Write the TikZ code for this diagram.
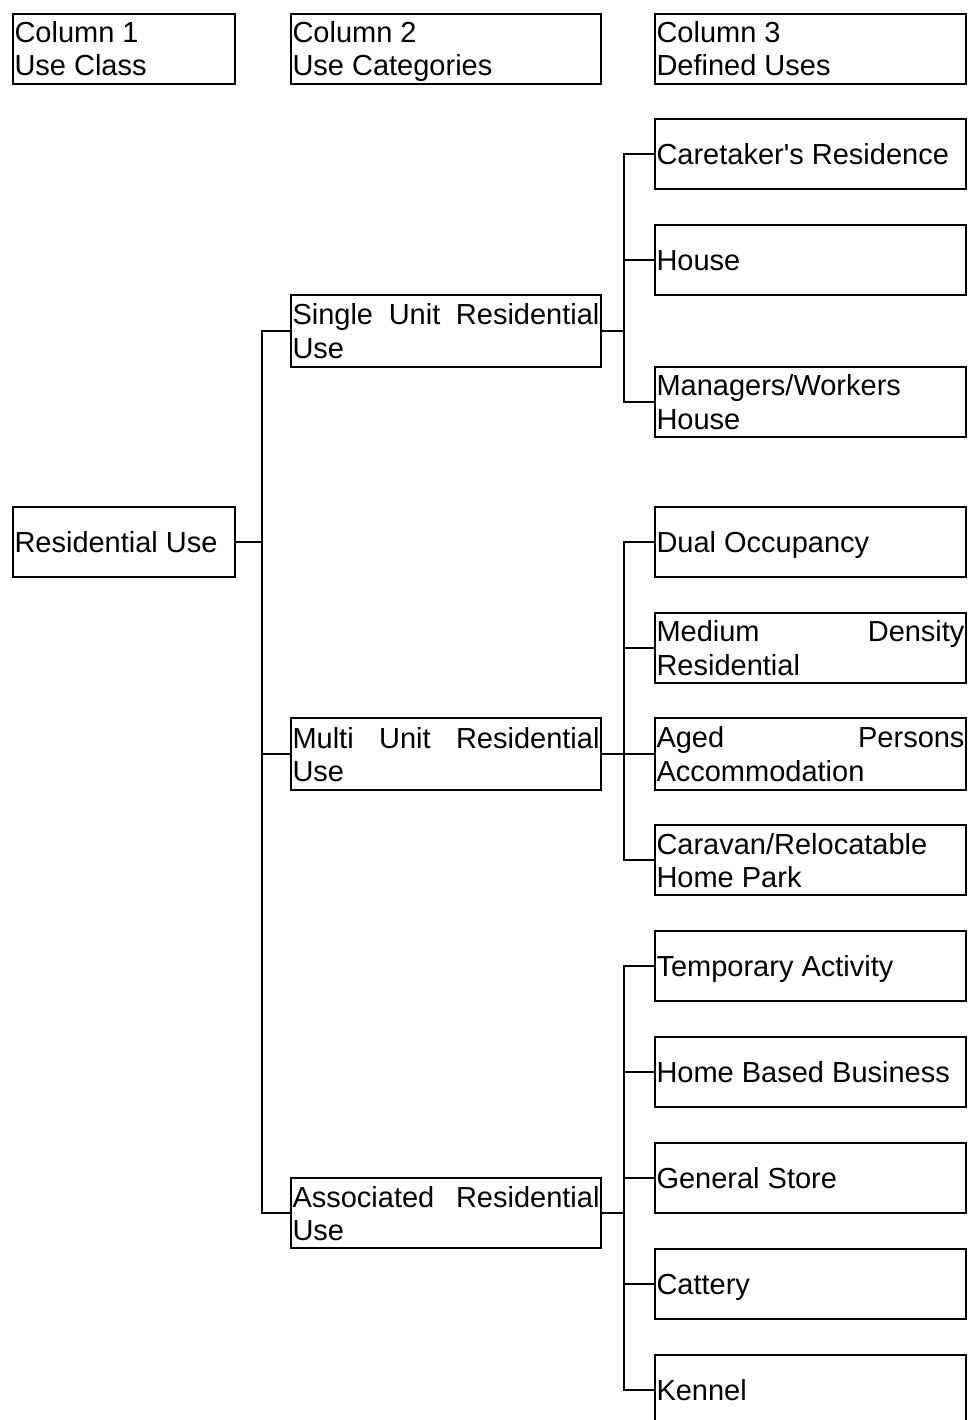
\documentclass[tikz,border=0pt]{standalone}
\usepackage{fontspec}
\setmainfont{Liberation Sans}[Ligatures=TeXOff]
\newcommand\vstrut{\leavevmode\vrule width 0pt height 27pt depth 6pt\relax}
\hyphenpenalty=10000
\exhyphenpenalty=10000
\begin{document}
\begin{tikzpicture}[x=1pt,y=-1pt,
 box/.style={draw, line width=2.2pt, outer sep=0pt, anchor=north west, inner xsep=1.5pt, inner ysep=0pt,
   align=justify, font=\fontsize{29}{33}\selectfont,
   execute at begin node=\vstrut, execute at end node=\vstrut},
 colA/.style={box, text width=219pt, minimum height=70pt},
 colB/.style={box, text width=307pt, minimum height=72pt},
 colC/.style={box, text width=308pt, minimum height=70pt},
 link/.style={line width=2.2pt}]
\useasboundingbox (0,0) rectangle (970,1420);
\clip (0,0) rectangle (970,1420);
% headers
\node[colA, minimum height=70pt] (h1) at (13,14) {Column 1\\Use Class};
\node[colB, minimum height=70pt] (h2) at (291,14) {Column 2\\Use Categories};
\node[colC] (h3) at (655,14) {Column 3\\Defined Uses};
% column 1
\node[colA] (res) at (13,507) {Residential Use};
% column 2
\node[colB] (su) at (291,295) {Single Unit Residential Use};
\node[colB] (mu) at (291,718) {Multi Unit Residential Use};
\node[colB, minimum height=70pt] (ar) at (291,1178) {Associated Residential Use};
% column 3
\node[colC] (d1) at (655,119) {Caretaker's Residence};
\node[colC] (d2) at (655,225) {House};
\node[colC] (d3) at (655,367) {Managers/Workers House};
\node[colC] (d4) at (655,507) {Dual Occupancy};
\node[colC] (d5) at (655,613) {Medium Density Residential};
\node[colC, minimum height=72pt] (d6) at (655,718) {Aged Persons Accommodation};
\node[colC] (d7) at (655,825) {Caravan/Relocatable Home Park};
\node[colC] (d8) at (655,931) {Temporary Activity};
\node[colC] (d9) at (655,1037) {Home Based Business};
\node[colC] (d10) at (655,1143) {General Store};
\node[colC] (d11) at (655,1249) {Cattery};
\node[colC] (d12) at (655,1355) {Kennel};
% trunks
\coordinate (ta) at (262,0);
\coordinate (tb) at (624,0);
% connectors column 1 -> 2
\draw[link] (res.east) -- (res.east -| ta);
\draw[link] (su.west) -- (su.west -| ta) -- (ar.west -| ta) -- (ar.west);
\draw[link] (mu.west) -- (mu.west -| ta);
% single unit
\draw[link] (su.east) -- (su.east -| tb);
\draw[link] (d1.west) -- (d1.west -| tb) -- (d3.west -| tb) -- (d3.west);
\draw[link] (d2.west) -- (d2.west -| tb);
% multi unit
\draw[link] (mu.east) -- (mu.east -| tb);
\draw[link] (d4.west) -- (d4.west -| tb) -- (d7.west -| tb) -- (d7.west);
\draw[link] (d5.west) -- (d5.west -| tb);
\draw[link] (d6.west) -- (d6.west -| tb);
% associated
\draw[link] (ar.east) -- (ar.east -| tb);
\draw[link] (d8.west) -- (d8.west -| tb) -- (d12.west -| tb) -- (d12.west);
\draw[link] (d9.west) -- (d9.west -| tb);
\draw[link] (d10.west) -- (d10.west -| tb);
\draw[link] (d11.west) -- (d11.west -| tb);
\end{tikzpicture}
\end{document}
